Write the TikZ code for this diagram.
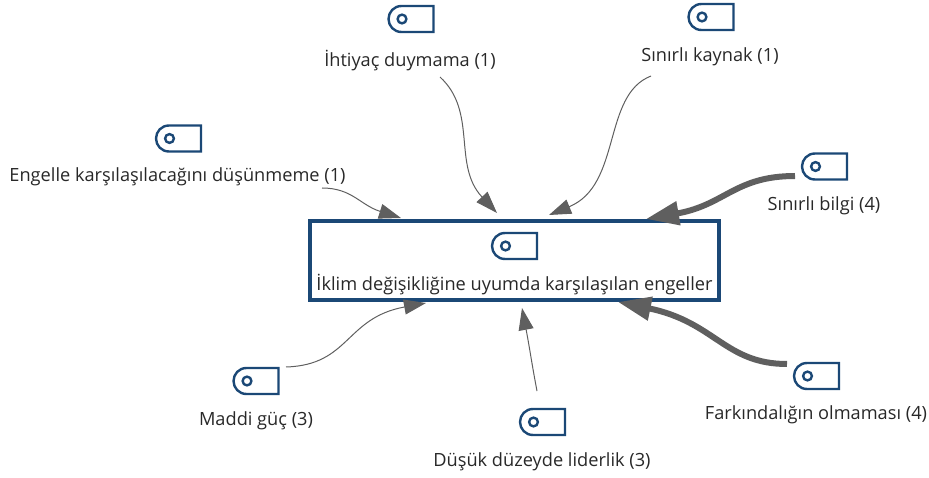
\documentclass[tikz,border=0pt]{standalone}
\usepackage{fontspec}
\setmainfont{Open Sans}
\usetikzlibrary{arrows.meta}
\definecolor{navy}{RGB}{27,72,118}
\definecolor{arrowgrey}{RGB}{95,95,95}
\definecolor{labelgrey}{RGB}{40,40,40}
\tikzset{
  x=1pt,y=-1pt,
  lbl/.style={font=\fontsize{18.2pt}{21pt}\selectfont,text=labelgrey,inner sep=0pt,anchor=center},
  hubbox/.style={draw=navy,line width=4pt,fill=white,minimum width=409pt,minimum height=79pt,inner sep=0pt},
  thinlink/.style={draw=arrowgrey,line width=1pt,-{Triangle[length=22pt,width=15pt,fill=arrowgrey]}},
  thicklink/.style={draw=arrowgrey,line width=6pt,-{Triangle[length=33pt,width=23pt,fill=arrowgrey]}},
  tagicon/.pic={
    \draw[navy,line width=2.4pt,line join=miter]
      (-9.5,-13) -- (22.5,-13) -- (22.5,13) -- (-9.5,13)
      .. controls (-17,13) and (-22.5,7) .. (-22.5,0)
      .. controls (-22.5,-7) and (-17,-13) .. (-9.5,-13) -- cycle;
    \draw[navy,line width=2.4pt] (-9,0) circle (4.4);
  }
}
\begin{document}
\begin{tikzpicture}
\useasboundingbox (0,0) rectangle (929,478);
\node[hubbox] (hub) at (514,260.5) {};
\pic at (514.5,246) {tagicon};
\node[lbl] (hubtext) at (514.5,285) {İklim değişikliğine uyumda karşılaşılan engeller};

\pic at (178.5,138.5) {tagicon};
\node[lbl] (engelle) at (177.5,177) {Engelle karşılaşılacağını düşünmeme (1)};
\pic at (411,19) {tagicon};
\node[lbl] (ihtiyac) at (410,61) {İhtiyaç duymama (1)};
\pic at (711,17) {tagicon};
\node[lbl] (kaynak) at (710,57) {Sınırlı kaynak (1)};
\pic at (824.5,166.5) {tagicon};
\node[lbl] (bilgi) at (824,206) {Sınırlı bilgi (4)};
\pic at (816.5,376) {tagicon};
\node[lbl] (farkin) at (816,415) {Farkındalığın olmaması (4)};
\pic at (256,381) {tagicon};
\node[lbl] (maddi) at (256,421) {Maddi güç (3)};
\pic at (542.5,422) {tagicon};
\node[lbl] (dusuk) at (542,462) {Düşük düzeyde liderlik (3)};

\coordinate (s1) at (322,188);  \coordinate (e1) at (401,218);
\coordinate (s2) at (440,77);   \coordinate (e2) at (497,213);
\coordinate (s3) at (651,76);   \coordinate (e3) at (549,215);
\coordinate (s4) at (795,176);  \coordinate (e4) at (646,219);
\coordinate (s5) at (787,364);  \coordinate (e5) at (618,302);
\coordinate (s6) at (286,367);  \coordinate (e6) at (426,303);
\coordinate (s7) at (537,391);  \coordinate (e7) at (522,308);

\draw[thinlink] (s1) .. controls (352,188) and (360,205) .. (e1);
\draw[thinlink] (s2) .. controls (478,112) and (452,165) .. (e2);
\draw[thinlink] (s3) .. controls (602,95) and (622,185) .. (e3);
\draw[thicklink] (s4) .. controls (735,176) and (725,205) .. (e4);
\draw[thicklink] (s5) .. controls (725,364) and (715,322) .. (e5);
\draw[thinlink] (s6) .. controls (350,365) and (345,318) .. (e6);
\draw[thinlink] (s7) .. controls (532,365) and (530,350) .. (e7);
\end{tikzpicture}
\end{document}
